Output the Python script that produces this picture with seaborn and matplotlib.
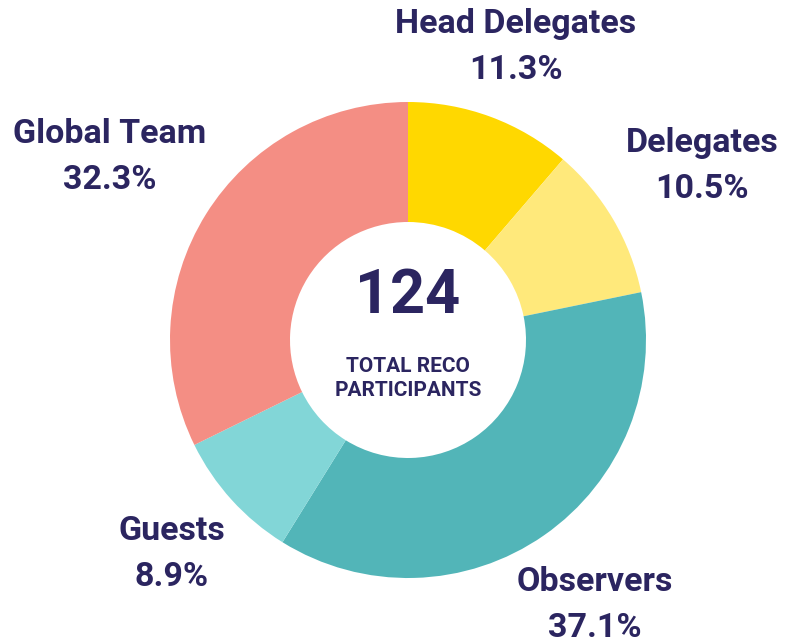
import numpy as np
import seaborn as sns
import matplotlib.pyplot as plt

# Participant shares (%)
categories = ['Head Delegates', 'Delegates', 'Observers', 'Guests', 'Global Team']
shares = [11.3, 10.5, 37.1, 8.9, 32.3]
total_participants = 124

colors = ['#FFD800', '#FFE97B', '#52B5B8', '#82D6D7', '#F48E84']
text_color = '#2B2560'

sns.set_theme(style='white')
plt.rcParams['font.family'] = ['Roboto', 'DejaVu Sans']

fig = plt.figure(figsize=(8.01, 6.43), dpi=100)
ax = fig.add_axes([0, 0, 1, 1])
W, H = 801, 643
cx, cy = 408, H - 340

ax.pie(shares, colors=colors, startangle=90, counterclock=False,
       radius=238, center=(cx, cy),
       wedgeprops=dict(width=120, linewidth=0))

ax.set_xlim(0, W)
ax.set_ylim(0, H)
ax.set_aspect('equal')
ax.axis('off')

# label positions (pixel coords, top-down)
label_pos = {
    'Head Delegates': (516, 24),
    'Delegates': (702, 143),
    'Global Team': (110, 134),
    'Guests': (172, 531),
    'Observers': (595, 582),
}
for cat, val in zip(categories, shares):
    x, y = label_pos[cat]
    ax.text(x, H - y, cat, ha='center', va='center', fontsize=24.5,
            fontweight='bold', color=text_color)
    ax.text(x, H - y - 46, f'{val}%', ha='center', va='center', fontsize=24.5,
            fontweight='bold', color=text_color)

ax.text(cx, H - 296, str(total_participants), ha='center', va='center',
        fontsize=44, fontweight='bold', color=text_color)
ax.text(cx, H - 367, 'TOTAL RECO', ha='center', va='center',
        fontsize=15, fontweight='bold', color=text_color)
ax.text(cx, H - 390, 'PARTICIPANTS', ha='center', va='center',
        fontsize=15, fontweight='bold', color=text_color)

fig.savefig('out.png', dpi=100, facecolor='white')
